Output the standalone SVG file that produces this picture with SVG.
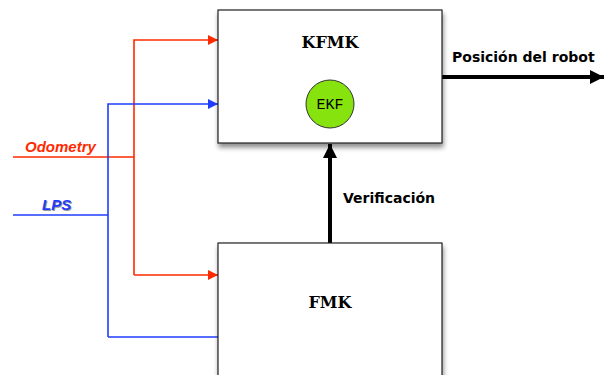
<svg xmlns="http://www.w3.org/2000/svg" width="605" height="375" viewBox="0 0 605 375">
<defs>
<filter id="sh" x="-10%" y="-10%" width="130%" height="130%"><feGaussianBlur in="SourceAlpha" stdDeviation="2.5"/><feOffset dx="1" dy="4"/><feComponentTransfer><feFuncA type="linear" slope="0.45"/></feComponentTransfer><feMerge><feMergeNode/><feMergeNode in="SourceGraphic"/></feMerge></filter>
<marker id="ar" viewBox="0 0 10 10" refX="10" refY="5" markerWidth="13" markerHeight="10" markerUnits="userSpaceOnUse" orient="auto"><path d="M0,0 L10,5 L0,10 z" fill="#ff2a00"/></marker>
<marker id="ab" viewBox="0 0 10 10" refX="10" refY="5" markerWidth="13" markerHeight="10" markerUnits="userSpaceOnUse" orient="auto"><path d="M0,0 L10,5 L0,10 z" fill="#1f3cff"/></marker>
<marker id="ak" viewBox="0 0 10 10" refX="10" refY="5" markerWidth="16" markerHeight="14" markerUnits="userSpaceOnUse" orient="auto"><path d="M0,0 L10,5 L0,10 z" fill="#000"/></marker>
</defs>
<style>
.box{fill:#fff;stroke:#222;stroke-width:1.2}
.red{fill:none;stroke:#ff2a00;stroke-width:1.6}
.blue{fill:none;stroke:#1f3cff;stroke-width:1.6}
.blk{fill:none;stroke:#000;stroke-width:4}
.title{font-family:"DejaVu Serif",serif;font-weight:bold;font-size:16px;text-anchor:middle}
.mono{font-family:"Courier New","Liberation Mono",monospace;font-size:15px;text-anchor:middle}
.lbl{font-family:"DejaVu Sans","Liberation Sans",sans-serif;font-weight:bold;font-size:14px}
.in{font-family:"Liberation Sans",sans-serif;font-style:italic;font-weight:bold;font-size:15px}
</style>
<g id="connectors">
<path class="red" d="M13,157 H134"/>
<path class="red" d="M134,275 V40 H218" marker-end="url(#ar)"/>
<path class="red" d="M134,275 H218" marker-end="url(#ar)"/>
<path class="blue" d="M13,215 H108"/>
<path class="blue" d="M108,337 V104 H218" marker-end="url(#ab)"/>
<path class="blue" d="M108,337 H218"/>
<path class="blk" d="M330,243 V144" marker-end="url(#ak)"/>
<path class="blk" d="M442,77 H604" marker-end="url(#ak)"/>
<text class="in" x="25" y="152" fill="#ff2a00">Odometry</text>
<text class="in" x="43" y="211" fill="#999">LPS</text>
<text class="in" x="42" y="210" fill="#1f3cff">LPS</text>
<text class="lbl" x="343" y="203">Verificación</text>
<text class="lbl" x="452" y="62">Posición del robot</text>
</g>
<g id="kfmk">
<rect class="box" x="218" y="10" width="224" height="133" filter="url(#sh)"/>
<text class="title" x="330" y="48">KFMK</text>
</g>
<g id="ekf">
<circle cx="330" cy="104" r="24" fill="#86e30e" stroke="#333" stroke-width="1"/>
<text class="mono" x="330" y="109">EKF</text>
</g>
<g id="fmk">
<rect class="box" x="218" y="243" width="224" height="150" filter="url(#sh)"/>
<text class="title" x="330" y="308">FMK</text>
</g>
</svg>
